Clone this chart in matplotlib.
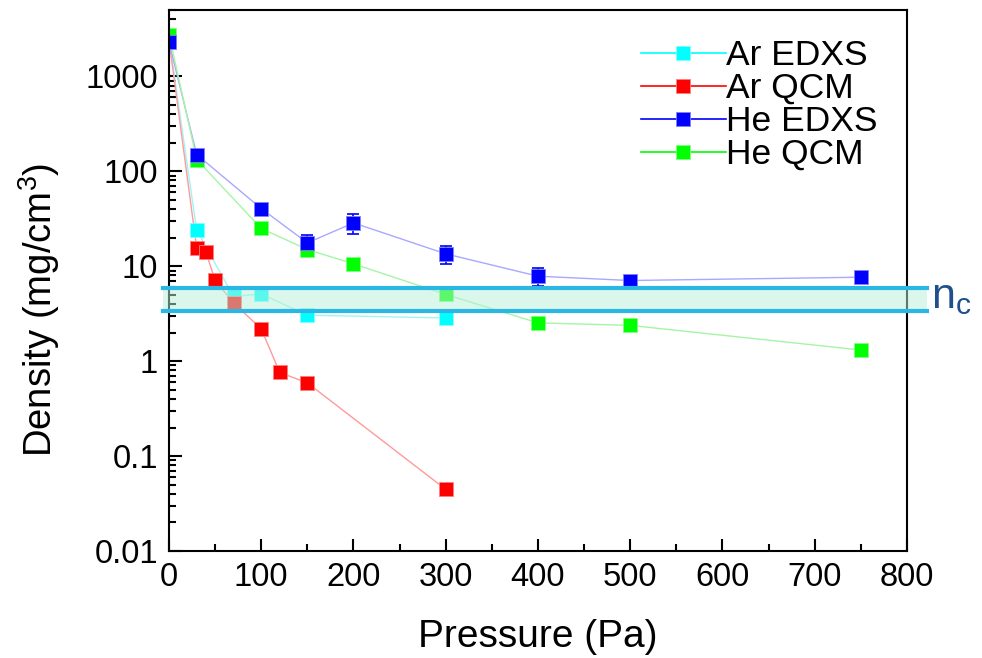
import matplotlib.pyplot as plt
import numpy as np
from matplotlib.patches import Rectangle
from matplotlib.ticker import FixedLocator, FixedFormatter, MultipleLocator, LogLocator, NullFormatter

plt.rcParams['font.family'] = ['Liberation Sans', 'DejaVu Sans']

# data
ar_edxs_p = [0, 30, 70, 100, 150, 300]
ar_edxs_d = [2500, 23.9, 4.8, 5.1, 3.05, 2.85]

ar_qcm_p = [0, 30, 40, 50, 70, 100, 120, 150, 300]
ar_qcm_d = [2400, 15.6, 14.1, 7.1, 4.1, 2.19, 0.76, 0.59, 0.0446]

he_edxs_p = [0, 30, 100, 150, 200, 300, 400, 500, 750]
he_edxs_d = [2300, 150, 40.5, 17.6, 28.6, 13.5, 7.85, 7.07, 7.66]
he_edxs_err = [150, 8, 3, 3.5, 6.5, 3, 1.7, 0.5, 0.5]

he_qcm_p = [0, 30, 100, 150, 200, 300, 400, 500, 750]
he_qcm_d = [2750, 133, 25, 15, 10.6, 5.04, 2.53, 2.38, 1.31]

nc_low, nc_high = 3.4, 5.9

fig = plt.figure(figsize=(9.82, 6.58), dpi=100)
ax = fig.add_axes([0.1721, 0.1626, 0.7515, 0.8222])

ms = 9.5
ax.plot(ar_edxs_p, ar_edxs_d, '-', color='#9ff5f5', lw=1.0)
ax.plot(ar_qcm_p, ar_qcm_d, '-', color='#ff9a9a', lw=1.0)
ax.plot(he_edxs_p, he_edxs_d, '-', color='#a8a8ff', lw=1.0)
ax.plot(he_qcm_p, he_qcm_d, '-', color='#a6f5a6', lw=1.0)

ax.errorbar(he_edxs_p, he_edxs_d, yerr=he_edxs_err, fmt='none', ecolor='#0000ff',
            elinewidth=1.2, capsize=4, capthick=1.2)

ax.plot(ar_edxs_p, ar_edxs_d, 's', color='#00ffff', ms=ms, mec='#80ffff', mew=0.6)
ax.plot(ar_qcm_p, ar_qcm_d, 's', color='#ff0000', ms=ms, mec='#ff8080', mew=0.6)
ax.plot(he_qcm_p, he_qcm_d, 's', color='#00ff00', ms=ms, mec='#80ff80', mew=0.6)
ax.plot(he_edxs_p, he_edxs_d, 's', color='#0000ff', ms=ms, mec='#8080ff', mew=0.6)

# legend handles
h1, = ax.plot([], [], '-s', color='#00ffff', ms=ms, lw=1.2, mec='#80ffff', mew=0.6)
h2, = ax.plot([], [], '-s', color='#ff0000', ms=ms, lw=1.2, mec='#ff8080', mew=0.6)
h3, = ax.plot([], [], '-s', color='#0000ff', ms=ms, lw=1.2, mec='#8080ff', mew=0.6)
h4, = ax.plot([], [], '-s', color='#00ff00', ms=ms, lw=1.2, mec='#80ff80', mew=0.6)
leg = ax.legend([h1, h2, h3, h4], ['Ar EDXS', 'Ar QCM', 'He EDXS', 'He QCM'],
                loc='upper right', bbox_to_anchor=(0.993, 0.992), frameon=False,
                fontsize=25.5, handlelength=2.4, handletextpad=0.0,
                labelspacing=0.0, borderaxespad=0.3)

# critical density band
trans = ax.get_yaxis_transform()
x0, x1 = -0.008, 1.027
ax.add_patch(Rectangle((x0, nc_low), x1 - x0, nc_high - nc_low, transform=trans,
                       facecolor='#b8f0da', alpha=0.5, edgecolor='none',
                       clip_on=False, zorder=5))
ax.plot([x0, x1], [nc_high, nc_high], transform=trans, color='#2bb7e4', lw=3,
        clip_on=False, zorder=6)
ax.plot([x0, x1], [nc_low, nc_low], transform=trans, color='#2bb7e4', lw=3,
        clip_on=False, zorder=6)
ax.text(1.033, np.sqrt(nc_low * nc_high) * 1.05, r'$\mathregular{n_c}$', transform=trans,
        fontsize=31, color='#1f4f8f', va='center', ha='left')

ax.set_yscale('log')
ax.set_xlim(0, 800)
ax.set_ylim(0.01, 5000)

yt = [0.01, 0.1, 1, 10, 100, 1000]
ax.yaxis.set_major_locator(FixedLocator(yt))
ax.yaxis.set_major_formatter(FixedFormatter(['0.01', '0.1', '1', '10', '100', '1000']))
ax.yaxis.set_minor_locator(LogLocator(base=10, subs=np.arange(2, 10)))
ax.yaxis.set_minor_formatter(NullFormatter())
ax.xaxis.set_major_locator(MultipleLocator(100))
ax.xaxis.set_minor_locator(MultipleLocator(50))

ax.tick_params(which='both', direction='in', top=False, right=False, labelsize=23.5,
               width=1.5)
ax.tick_params(which='major', length=9, pad=8)
ax.tick_params(which='minor', length=5)
for s in ax.spines.values():
    s.set_linewidth(1.5)

ax.set_xlabel('Pressure (Pa)', fontsize=28)
ax.set_ylabel(r'Density (mg/cm$^\mathregular{3}$)', fontsize=27.5)
ax.xaxis.set_label_coords(0.5, -0.125)
ax.yaxis.set_label_coords(-0.145, 0.445)

fig.savefig('out.png', dpi=100)
